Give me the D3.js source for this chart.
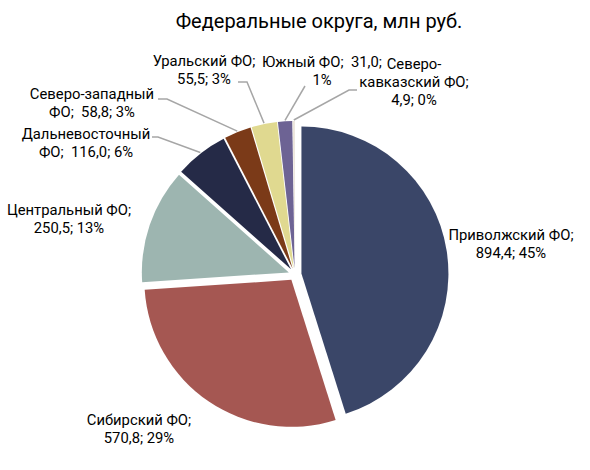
<!DOCTYPE html>
<html>
<head>
<meta charset="utf-8">
<script src="https://cdn.jsdelivr.net/npm/d3@7"></script>
<style>
  html, body { margin: 0; padding: 0; background: #ffffff; }
  svg { display: block; }
  text { font-family: Roboto, "Noto Sans", sans-serif; fill: #000; }
</style>
</head>
<body>
<div id="chart"></div>
<script>
// ---- data ----
const categories = ["Приволжский ФО", "Сибирский ФО", "Центральный ФО", "Дальневосточный ФО",
                    "Северо-западный ФО", "Уральский ФО", "Южный ФО", "Северо-кавказский ФО"];
const values = [894.4, 570.8, 250.5, 116.0, 58.8, 55.5, 31.0, 4.9];
const percents = [45, 29, 13, 6, 3, 3, 1, 0];
const title = "Федеральные округа, млн руб.";
// label line templates: {n}=name, {v}=value, {p}=percent, | = line break
const labelTemplates = [
  "{n};|{v}; {p}%",
  "{n};|{v}; {p}%",
  "{n};|{v}; {p}%",
  "Дальневосточный|ФО;  {v}; {p}%",
  "Северо-западный|ФО;  {v}; {p}%",
  "{n};|{v}; {p}%",
  "{n};  {v};|{p}%",
  "Северо-|кавказский ФО;|{v}; {p}%"
];

// ---- layout / style ----
const W = 590, H = 470;
const cx = 295, cy = 274.5, R = 147, explode = 6.5;
const colors = ["#3a4668", "#a55752", "#9db5b0", "#252a47", "#7b3a18", "#e0d990", "#6d6394", "#ece6dc"];
const labelPos = [
  {x: 511, y: 240}, {x: 139, y: 425}, {x: 69, y: 215}, {x: 86, y: 139},
  {x: 92, y: 99}, {x: 204, y: 66}, {x: 322, y: 67}, {x: 414, y: 69}
];
// leader line start (near label) and elbow points; null = no leader
const leaders = [null, null, null,
  [[152, 137], [158, 137]],
  [[158, 99], [167, 99]],
  [[238, 82], [247, 82]],
  [[305, 86], [305, 86]],
  [[357, 90], [349, 90]]
];
const lineH = 18;

const fmt = d3.formatLocale({decimal: ",", thousands: " ", grouping: [3], currency: ["", ""]}).format(".1f");

const svg = d3.select("#chart").append("svg").attr("width", W).attr("height", H);

svg.append("text").attr("x", 319).attr("y", 28).attr("text-anchor", "middle")
  .style("font-size", "20px").text(title);

const pie = d3.pie().sort(null).value(d => d)(values);
const arc = d3.arc().innerRadius(0).outerRadius(R);

const g = svg.append("g").attr("transform", `translate(${cx},${cy})`);
g.selectAll("path").data(pie).join("path")
  .attr("d", arc)
  .attr("fill", (d, i) => colors[i])
  .attr("transform", d => {
    const a = (d.startAngle + d.endAngle) / 2;
    return `translate(${Math.sin(a) * explode},${-Math.cos(a) * explode})`;
  });

// leaders
pie.forEach((d, i) => {
  if (!leaders[i]) return;
  const a = (d.startAngle + d.endAngle) / 2;
  const rr = R + explode + 1;
  const end = [cx + Math.sin(a) * rr, cy - Math.cos(a) * rr];
  const pts = [...leaders[i], end];
  svg.append("path").attr("d", d3.line()(pts))
    .attr("fill", "none").attr("stroke", "#a6a6a6").attr("stroke-width", 1.5);
});

// labels
pie.forEach((d, i) => {
  const txt = labelTemplates[i]
    .replace("{n}", categories[i])
    .replace("{v}", fmt(values[i]))
    .replace("{p}", percents[i]);
  const lines = txt.split("|");
  const t = svg.append("text").attr("text-anchor", "middle").style("font-size", "14.8px")
    .attr("xml:space", "preserve").style("white-space", "pre");
  lines.forEach((ln, k) => {
    t.append("tspan").attr("x", labelPos[i].x).attr("y", labelPos[i].y + k * lineH).text(ln);
  });
});
</script>
</body>
</html>
